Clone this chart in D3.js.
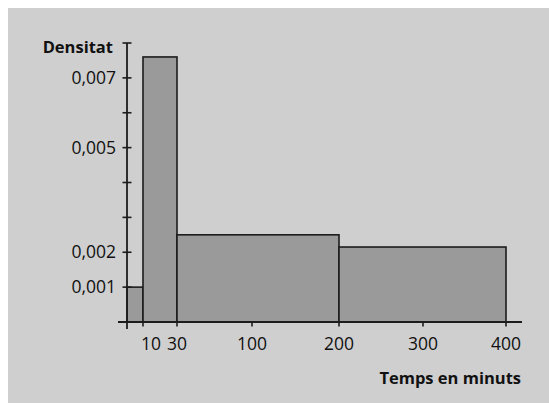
<!DOCTYPE html>
<html><head><meta charset="utf-8">
<script src="https://cdn.jsdelivr.net/npm/d3@7"></script>
<style>body{margin:0;background:#fff}svg{display:block}text{font-family:"Open Sans",sans-serif;fill:#111}</style>
</head><body><div id="chart"></div>
<script>
const binEdges = [0, 10, 30, 200, 400];
const densities = [0.001, 0.0076, 0.0025, 0.00215];
const xTickValues = [10, 30, 100, 200, 300, 400];
const xTickLabels = ["10", "30", "100", "200", "300", "400"];
const yTickValues = [0.001, 0.002, 0.003, 0.004, 0.005, 0.006, 0.007, 0.008];
const yTickLabels = ["0,001", "0,002", "", "", "0,005", "", "0,007", ""];
const xTitle = "Temps en minuts";
const yTitle = "Densitat";

const W = 549, H = 403;
const svg = d3.select("#chart").append("svg").attr("width", W).attr("height", H);
svg.append("rect").attr("x", 8).attr("y", 8).attr("width", W - 8).attr("height", H - 8).attr("fill", "#cfcfcf");

// piecewise (non-proportional) horizontal axis as in the original sketch
const x = d3.scaleLinear().domain([0, 10, 30, 100, 200, 300, 400]).range([127, 143, 177, 252, 339, 423, 506]);
const y = d3.scaleLinear().domain([0, 0.008]).range([322, 43]);

const bars = binEdges.slice(0, -1).map((a, i) => ({x0: a, x1: binEdges[i + 1], d: densities[i]}));
svg.selectAll("rect.bar").data(bars).join("rect").attr("class", "bar")
  .attr("x", d => x(d.x0)).attr("y", d => y(d.d))
  .attr("width", d => x(d.x1) - x(d.x0)).attr("height", d => y(0) - y(d.d))
  .attr("fill", "#9a9a9a").attr("stroke", "#1c1c1c").attr("stroke-width", 1.6);

const ink = "#1c1c1c";
// x axis
svg.append("line").attr("x1", 118).attr("x2", 522).attr("y1", y(0)).attr("y2", y(0)).attr("stroke", ink).attr("stroke-width", 1.8);
svg.selectAll("line.xt").data(xTickValues).join("line").attr("class", "xt")
  .attr("x1", d => x(d)).attr("x2", d => x(d)).attr("y1", y(0)).attr("y2", y(0) + 4.5)
  .attr("stroke", ink).attr("stroke-width", 1.6);
svg.selectAll("text.xl").data(xTickValues).join("text").attr("class", "xl")
  .attr("x", (d, i) => x(d) + (d === 10 ? 8 : 0)).attr("y", 350)
  .attr("text-anchor", "middle").attr("font-size", 17.5).text((d, i) => xTickLabels[i]);

// y axis
svg.append("line").attr("x1", x(0)).attr("x2", x(0)).attr("y1", y(0.008)).attr("y2", y(0) + 7).attr("stroke", ink).attr("stroke-width", 1.8);
svg.selectAll("line.yt").data(yTickValues).join("line").attr("class", "yt")
  .attr("x1", x(0) - 4.5).attr("x2", x(0) + 4.5).attr("y1", d => y(d)).attr("y2", d => y(d))
  .attr("stroke", ink).attr("stroke-width", 1.6);
svg.selectAll("text.yl").data(yTickValues).join("text").attr("class", "yl")
  .attr("x", 116).attr("y", d => y(d) + 6)
  .attr("text-anchor", "end").attr("font-size", 17.5).text((d, i) => yTickLabels[i]);

svg.append("text").attr("x", 113).attr("y", 53).attr("text-anchor", "end").attr("font-size", 16.5).attr("font-weight", "bold").text(yTitle);
svg.append("text").attr("x", 521).attr("y", 384).attr("text-anchor", "end").attr("font-size", 16.5).attr("font-weight", "bold").text(xTitle);
</script></body></html>
